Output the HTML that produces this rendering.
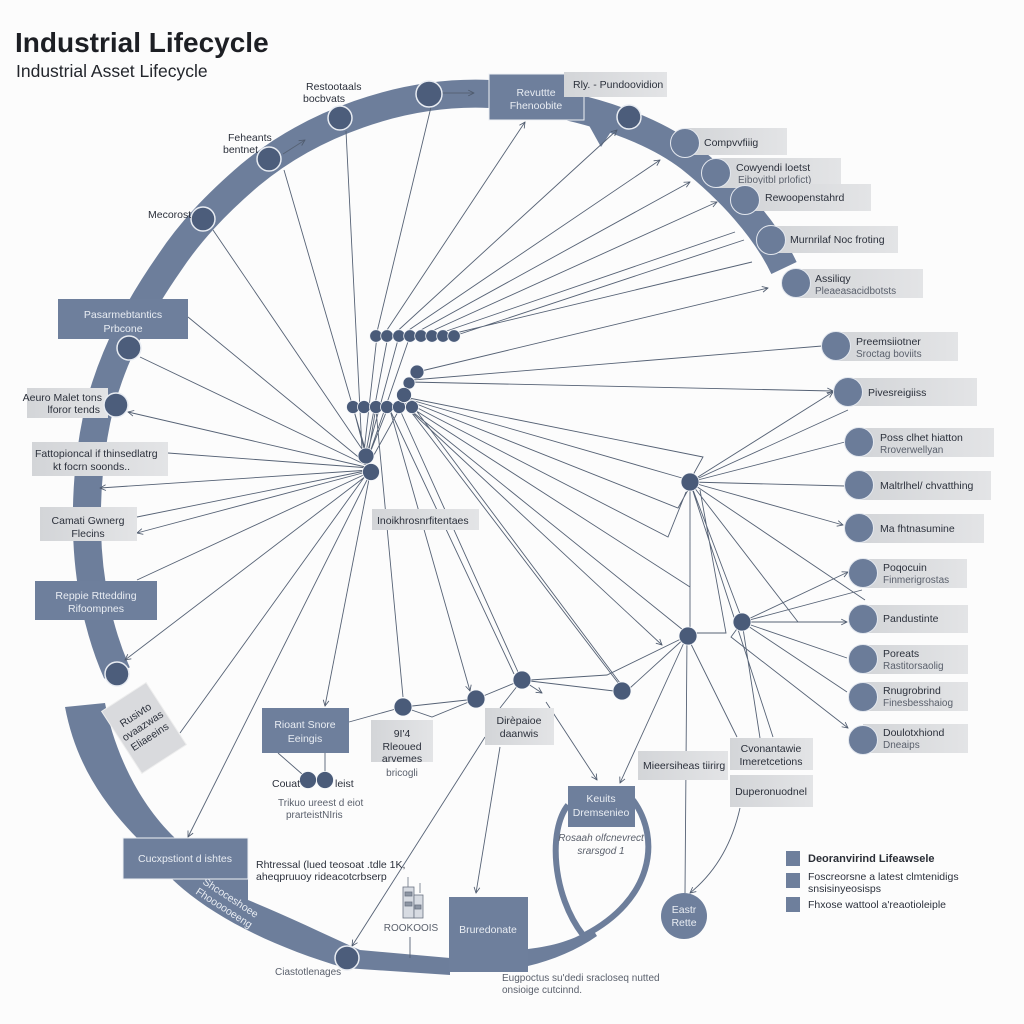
<!DOCTYPE html>
<html><head><meta charset="utf-8">
<style>
html,body{margin:0;padding:0;background:#fcfcfc;}
svg{display:block;font-family:"Liberation Sans",Arial,sans-serif;}
.t{font-size:10.5px;fill:#2b303b;}
.s{font-size:10px;fill:#5a606c;}
.w{font-size:10.5px;fill:#e9edf3;}
.g{fill:url(#gg);}
.d{fill:#6e7f9c;}
</style></head>
<body>
<svg width="1024" height="1024" viewBox="0 0 1024 1024" xmlns="http://www.w3.org/2000/svg">
<defs>
<marker id="ar" viewBox="0 0 10 10" refX="9" refY="5" markerWidth="8" markerHeight="8" orient="auto">
<path d="M1,1 L9,5 L1,9" fill="none" stroke="#4f5b6e" stroke-width="1.2"/></marker>
<linearGradient id="gg" x1="0" y1="0" x2="1" y2="0"><stop offset="0" stop-color="#d3d5d8"/><stop offset="1" stop-color="#e3e4e6"/></linearGradient>
</defs>
<rect width="1024" height="1024" fill="#fcfcfc"/>

<!-- Title -->
<text x="15" y="52" font-size="28" font-weight="bold" fill="#1d1f24">Industrial Lifecycle</text>
<text x="16" y="77" font-size="17.5" fill="#22252b">Industrial Asset Lifecycle</text>

<!-- Ring band -->
<path d="M784,268 C765,228 730,190 690,158 C660,135 600,105 490,94 C400,90 310,125 250,175 C215,205 190,232 170,262 C140,305 115,350 100,405 C90,445 86,490 87,530 C88,580 98,630 117,673" fill="none" stroke="#6d7e9b" stroke-width="28"/>
<path d="M586,120 L616,124 L601,147 Z" fill="#6d7e9b"/>
<path d="M65,707 L105,703 C113,745 135,800 175,838 L248,838 L248,900 C285,915 320,932 360,950 L450,958 L450,975 L345,968 C270,946 210,915 173,880 L137,838 C100,800 75,760 65,707 Z" fill="#6d7e9b"/>
<path d="M528,949 C553,946 575,940 592,928 L597,936 C577,950 553,960 528,966 Z" fill="#6d7e9b"/>
<path d="M583,935 C552,895 548,830 568,805 M633,800 C662,840 652,900 585,935" fill="none" stroke="#6d7e9b" stroke-width="6"/>

<!-- connector lines -->
<path fill="none" stroke="#566275" stroke-width="0.9" d="
M188,317 L368,465 M140,357 L368,466 M168,453 L370,468 M137,517 L370,470 M137,580 L370,472 M180,733 L368,472
M213,230 L364,452 M284,170 L366,452 M346,131 L362,450 M431,107 L376,336
M353,407 L366,456 M376,407 L368,456 M387,410 L368,458 M399,410 L370,462
M377,336 L364,452 M388,336 L366,452 M399,336 L367,454 M410,336 L369,455
M432,336 L735,232 M443,336 L752,262 M454,336 L744,240 M412,380 L822,346
M404,397 L703,457 L693,475 M404,399 L678,508 L688,490 M404,401 L668,537 L686,492
M404,398 L682,478 M404,403 L690,587 M404,405 L683,630 M405,404 L622,688
M400,410 L518,672 M390,410 L514,674 M376,410 L403,697 M412,405 L620,683
M690,482 L848,410 M690,482 L845,442 M690,482 L845,486 M690,482 L865,600 M690,482 L798,622
M690,482 L740,614 M690,482 L773,737 M690,482 L690,627 M688,633 L726,633 L700,490
M742,622 L862,590 M742,622 L847,658 M742,622 L847,692 M742,622 L760,738
M687,636 L685,893 M687,636 L737,737 M687,636 L630,688 M687,636 L607,675 L530,680
M530,681 L614,691 M522,680 L476,699 M522,680 L500,708
M403,707 L476,699 M403,707 L432,717 L476,699 M403,707 L349,722
M278,753 L302,774 M325,753 L325,772 M410,937 L410,958"/>
<g fill="none" stroke="#566275" stroke-width="0.9" marker-end="url(#ar)">
<line x1="370" y1="468" x2="128" y2="412"/>
<line x1="370" y1="470" x2="100" y2="488"/>
<line x1="370" y1="471" x2="137" y2="533"/>
<line x1="370" y1="473" x2="125" y2="660"/>
<line x1="370" y1="474" x2="188" y2="837"/>
<line x1="370" y1="474" x2="325" y2="706"/>
<line x1="383" y1="336" x2="525" y2="122"/>
<line x1="392" y1="336" x2="617" y2="130"/>
<line x1="400" y1="336" x2="660" y2="160"/>
<line x1="410" y1="336" x2="690" y2="182"/>
<line x1="421" y1="336" x2="717" y2="202"/>
<line x1="417" y1="372" x2="768" y2="288"/>
<line x1="409" y1="382" x2="833" y2="391"/>
<line x1="404" y1="405" x2="662" y2="645"/>
<line x1="390" y1="410" x2="470" y2="691"/>
<line x1="690" y1="482" x2="833" y2="392"/>
<line x1="690" y1="482" x2="843" y2="525"/>
<line x1="742" y1="622" x2="848" y2="572"/>
<line x1="742" y1="622" x2="847" y2="622"/>
<polyline points="742,622 731,637 848,728"/>
<line x1="687" y1="636" x2="620" y2="783"/>
<line x1="522" y1="680" x2="542" y2="693"/>
<line x1="546" y1="702" x2="597" y2="780"/>
<line x1="485" y1="737" x2="352" y2="946"/>
<line x1="500" y1="747" x2="476" y2="893"/>
<path d="M740,808 Q728,862 690,893"/>
<line x1="442" y1="93" x2="474" y2="93"/>
<line x1="283" y1="154" x2="305" y2="140"/>
</g>

<!-- Dark boxes -->
<rect x="489" y="74" width="95" height="46" class="d" stroke="#eef1f5" stroke-width="1"/>
<text x="536" y="96" class="w" text-anchor="middle">Revuttte</text>
<text x="536" y="109" class="w" text-anchor="middle">Fhenoobite</text>

<rect x="58" y="299" width="130" height="40" class="d"/>
<text x="123" y="318" class="w" text-anchor="middle">Pasarmebtantics</text>
<text x="123" y="332" class="w" text-anchor="middle">Prbcone</text>

<rect x="35" y="581" width="122" height="39" class="d"/>
<text x="96" y="599" class="w" text-anchor="middle">Reppie Rttedding</text>
<text x="96" y="612" class="w" text-anchor="middle">Rifoompnes</text>

<rect x="123" y="838" width="125" height="41" class="d" stroke="#eef1f5" stroke-width="1"/>
<text x="185" y="862" class="w" text-anchor="middle">Cucxpstiont d ishtes</text>

<rect x="262" y="708" width="87" height="45" class="d"/>
<text x="305" y="728" class="w" text-anchor="middle">Rioant Snore</text>
<text x="305" y="742" class="w" text-anchor="middle">Eeingis</text>

<rect x="568" y="786" width="67" height="41" class="d"/>
<text x="601" y="802" class="w" text-anchor="middle">Keuits</text>
<text x="601" y="816" class="w" text-anchor="middle">Dremsenieo</text>

<rect x="449" y="897" width="79" height="75" class="d"/>
<text x="488" y="933" class="w" text-anchor="middle" font-size="10">Bruredonate</text>

<!-- band texts -->
<g transform="rotate(33 226 905)"><text x="226" y="900" class="w" text-anchor="middle" font-size="9">Shcoceshoee</text><text x="226" y="912" class="w" text-anchor="middle" font-size="9">Fhoooooeeng</text></g>

<!-- tilted gray box -->
<g transform="rotate(-33 144 728)">
<rect x="117.5" y="691" width="53" height="74" fill="#d9dadd" stroke="#eee"/>
<text x="144" y="716" class="t" font-size="9" text-anchor="middle">Rusivto</text>
<text x="144" y="729" class="t" font-size="9" text-anchor="middle">ovaazwas</text>
<text x="144" y="742" class="t" font-size="9" text-anchor="middle">Eliaeeins</text>
</g>

<!-- gray boxes left -->
<rect x="27" y="388" width="81" height="30" class="g"/>
<text x="102" y="401" class="t" text-anchor="end">Aeuro Malet tons</text>
<text x="100" y="413" class="t" text-anchor="end">lforor tends</text>
<rect x="32" y="442" width="136" height="34" class="g"/>
<text x="35" y="457" class="t">Fattopioncal if thinsedlatrg</text>
<text x="53" y="470" class="t">kt focrn soonds..</text>
<rect x="40" y="507" width="97" height="34" class="g"/>
<text x="88" y="524" class="t" text-anchor="middle">Camati Gwnerg</text>
<text x="88" y="537" class="t" text-anchor="middle">Flecins</text>

<!-- center label -->
<rect x="372" y="509" width="107" height="21" class="g"/>
<text x="377" y="524" class="t">Inoikhrosnrfitentaes</text>

<!-- lower mid boxes -->
<rect x="371" y="720" width="62" height="42" class="g"/>
<text x="402" y="737" class="t" text-anchor="middle">9I'4</text>
<text x="402" y="750" class="t" text-anchor="middle">Rleoued</text>
<text x="402" y="762" class="t" text-anchor="middle">arvemes</text>
<text x="402" y="776" class="s" text-anchor="middle">bricogli</text>

<rect x="485" y="708" width="69" height="37" class="g"/>
<text x="519" y="724" class="t" text-anchor="middle">Dirèpaioe</text>
<text x="519" y="737" class="t" text-anchor="middle">daanwis</text>

<rect x="638" y="751" width="90" height="29" class="g"/>
<text x="643" y="769" class="t" font-size="10">Mieersiheas tiirirg</text>
<rect x="730" y="738" width="83" height="32" class="g"/>
<text x="771" y="752" class="t" text-anchor="middle" font-size="10">Cvonantawie</text>
<text x="771" y="765" class="t" text-anchor="middle" font-size="10">Imeretcetions</text>
<rect x="730" y="775" width="83" height="32" class="g"/>
<text x="771" y="795" class="t" text-anchor="middle" font-size="10">Duperonuodnel</text>

<!-- top right labels -->
<rect x="564" y="72" width="103" height="25" class="g"/>
<text x="573" y="88" class="t">Rly. - Pundoovidion</text>
<rect x="685" y="128" width="102" height="27" class="g"/>
<text x="704" y="146" class="t">Compvvfiiig</text>
<rect x="716" y="158" width="125" height="30" class="g"/>
<text x="736" y="171" class="t">Cowyendi loetst</text>
<text x="738" y="183" class="s">Eiboyitbl prlofict)</text>
<rect x="745" y="184" width="126" height="27" class="g"/>
<text x="765" y="201" class="t">Rewoopenstahrd</text>
<rect x="772" y="226" width="126" height="27" class="g"/>
<text x="790" y="243" class="t">Murnrilaf Noc froting</text>
<rect x="796" y="269" width="127" height="29" class="g"/>
<text x="815" y="282" class="t">Assiliqy</text>
<text x="815" y="294" class="s">Pleaeasacidbotsts</text>

<!-- right column labels -->
<rect x="836" y="332" width="122" height="29" class="g"/>
<text x="856" y="345" class="t">Preemsiiotner</text>
<text x="856" y="357" class="s">Sroctag boviits</text>
<rect x="848" y="378" width="129" height="28" class="g"/>
<text x="868" y="396" class="t">Pivesreigiiss</text>
<rect x="859" y="428" width="135" height="29" class="g"/>
<text x="880" y="441" class="t">Poss clhet hiatton</text>
<text x="880" y="453" class="s">Rroverwellyan</text>
<rect x="859" y="471" width="132" height="29" class="g"/>
<text x="880" y="489" class="t">Maltrlhel/ chvatthing</text>
<rect x="859" y="514" width="125" height="29" class="g"/>
<text x="880" y="532" class="t">Ma fhtnasumine</text>
<rect x="863" y="559" width="104" height="29" class="g"/>
<text x="883" y="571" class="t">Poqocuin</text>
<text x="883" y="583" class="s">Finmerigrostas</text>
<rect x="863" y="605" width="105" height="28" class="g"/>
<text x="883" y="622" class="t">Pandustinte</text>
<rect x="863" y="645" width="105" height="29" class="g"/>
<text x="883" y="657" class="t">Poreats</text>
<text x="883" y="669" class="s">Rastitorsaolig</text>
<rect x="863" y="682" width="105" height="29" class="g"/>
<text x="883" y="694" class="t">Rnugrobrind</text>
<text x="883" y="706" class="s">Finesbesshaiog</text>
<rect x="863" y="724" width="105" height="29" class="g"/>
<text x="883" y="736" class="t">Doulotxhiond</text>
<text x="883" y="748" class="s">Dneaips</text>

<!-- nodes: dark ring -->
<g fill="#4c5d7b" stroke="#e8ecf2" stroke-width="1.5">
<circle cx="429" cy="94" r="13"/><circle cx="340" cy="118" r="12"/><circle cx="269" cy="159" r="12"/>
<circle cx="203" cy="219" r="12"/><circle cx="129" cy="348" r="12"/><circle cx="116" cy="405" r="12"/>
<circle cx="117" cy="674" r="12"/><circle cx="347" cy="958" r="12"/><circle cx="629" cy="117" r="12"/>
</g>
<!-- nodes: light -->
<g fill="#6b7c99" stroke="#e3e7ee" stroke-width="1">
<circle cx="685" cy="143" r="14.5"/><circle cx="716" cy="173" r="14.5"/><circle cx="745" cy="200" r="14.5"/>
<circle cx="771" cy="240" r="14.5"/><circle cx="796" cy="283" r="14.5"/><circle cx="836" cy="346" r="14.5"/>
<circle cx="848" cy="392" r="14.5"/><circle cx="859" cy="442" r="14.5"/><circle cx="859" cy="485" r="14.5"/>
<circle cx="859" cy="528" r="14.5"/><circle cx="863" cy="573" r="14.5"/><circle cx="863" cy="619" r="14.5"/>
<circle cx="863" cy="659" r="14.5"/><circle cx="863" cy="697" r="14.5"/><circle cx="863" cy="740" r="14.5"/>
</g>
<!-- cluster nodes -->
<g fill="#4a5b79" stroke="#f4f6f9" stroke-width="0.8">
<circle cx="376" cy="336" r="6.3"/><circle cx="387" cy="336" r="6.3"/><circle cx="399" cy="336" r="6.3"/><circle cx="410" cy="336" r="6.3"/>
<circle cx="421" cy="336" r="6.3"/><circle cx="432" cy="336" r="6.3"/><circle cx="443" cy="336" r="6.3"/><circle cx="454" cy="336" r="6.3"/>
<circle cx="353" cy="407" r="6.5"/><circle cx="364" cy="407" r="6.5"/><circle cx="376" cy="407" r="6.5"/><circle cx="387" cy="407" r="6.5"/>
<circle cx="399" cy="407" r="6.5"/><circle cx="412" cy="407" r="6.5"/>
<circle cx="417" cy="372" r="7"/><circle cx="409" cy="383" r="6"/><circle cx="404" cy="395" r="7.5"/>
<circle cx="366" cy="456" r="8"/><circle cx="371" cy="472" r="8.5"/>
<circle cx="690" cy="482" r="9"/><circle cx="742" cy="622" r="9"/><circle cx="688" cy="636" r="9"/>
<circle cx="622" cy="691" r="9"/><circle cx="522" cy="680" r="9"/><circle cx="476" cy="699" r="9"/><circle cx="403" cy="707" r="9"/>
<circle cx="308" cy="780" r="8.5"/><circle cx="325" cy="780" r="8.5"/>
</g>
<circle cx="684" cy="916" r="23" fill="#6e7f9c"/>
<text x="684" y="913" class="w" text-anchor="middle" font-size="10">Eastr</text>
<text x="684" y="926" class="w" text-anchor="middle" font-size="10">Rette</text>

<!-- free texts -->
<text x="306" y="90" class="t" font-size="10">Restootaals</text>
<text x="303" y="102" class="t" font-size="10">bocbvats</text>
<text x="228" y="141" class="t" font-size="10">Feheants</text>
<text x="223" y="153" class="t" font-size="10">bentnet</text>
<text x="148" y="218" class="t" font-size="10">Mecorost</text>
<text x="272" y="787" class="t">Couat</text>
<text x="335" y="787" class="t">leist</text>
<text x="278" y="806" class="s" font-size="9.5">Trikuo ureest d eiot</text>
<text x="286" y="818" class="s" font-size="9.5">prarteistNIris</text>
<text x="256" y="868" class="t">Rhtressal (lued teosoat .tdle 1K,</text>
<text x="256" y="880" class="t">aheqpruuoy rideacotcrbserp</text>
<text x="601" y="841" class="s" text-anchor="middle" font-style="italic">Rosaah olfcnevrect</text>
<text x="601" y="854" class="s" text-anchor="middle" font-style="italic">srarsgod 1</text>
<text x="411" y="931" class="s" text-anchor="middle" font-size="9">ROOKOOIS</text>
<text x="275" y="975" class="s" font-size="9.5">Ciastotlenages</text>
<text x="502" y="981" class="s" font-size="9.5">Eugpoctus su'dedi sracloseq nutted</text>
<text x="502" y="993" class="s" font-size="9.5">onsioige cutcinnd.</text>

<!-- small icon -->
<g stroke="#6b7383" stroke-width="0.8" fill="#d7dbe2">
<line x1="408" y1="877" x2="408" y2="887"/><line x1="420" y1="883" x2="420" y2="893"/>
<rect x="403" y="887" width="11" height="31"/><rect x="414" y="895" width="9" height="23"/>
<rect x="405" y="892" width="7" height="4" fill="#8d95a3"/><rect x="405" y="902" width="7" height="4" fill="#8d95a3"/>
<rect x="415" y="905" width="6" height="4" fill="#8d95a3"/>
</g>

<!-- legend -->
<rect x="786" y="851" width="14" height="15" fill="#6e7f9c"/>
<rect x="786" y="873" width="14" height="15" fill="#6e7f9c"/>
<rect x="786" y="897" width="14" height="15" fill="#6e7f9c"/>
<text x="808" y="862" font-size="11" fill="#2a2e36" font-weight="bold">Deoranvirind Lifeawsele</text>
<text x="808" y="880" class="t" font-size="10">Foscreorsne a latest clmtenidigs</text>
<text x="808" y="892" class="t" font-size="10">snsisinyeosisps</text>
<text x="808" y="908" class="t" font-size="10">Fhxose wattool a'reaotioleiple</text>
</svg>
</body></html>
